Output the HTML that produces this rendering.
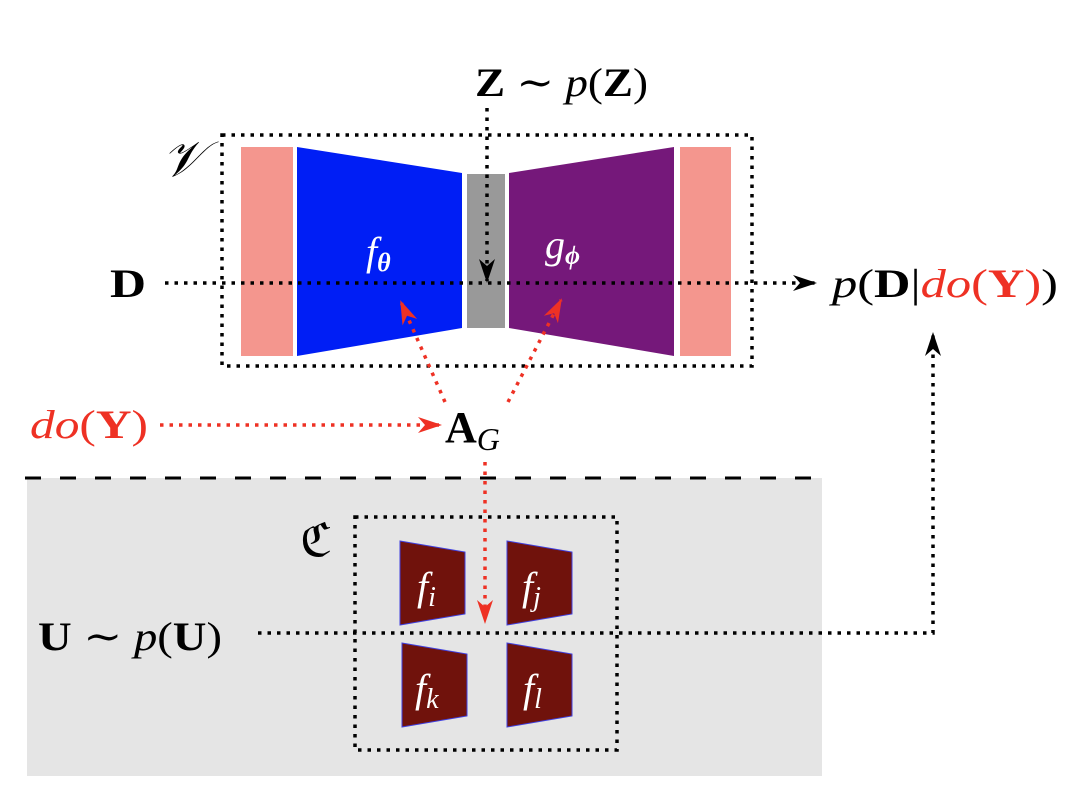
<!DOCTYPE html>
<html><head><meta charset="utf-8"><style>
html,body{margin:0;padding:0;background:#fff;}
svg{display:block;}
text{font-family:"Liberation Serif","DejaVu Serif",serif;}
.i{font-style:italic;}
.b{font-weight:bold;}
</style></head><body>
<svg width="1080" height="789" viewBox="0 0 1080 789" xmlns="http://www.w3.org/2000/svg">
<defs>
<marker id="ak" viewBox="0 0 24 16" refX="22" refY="8" markerWidth="24" markerHeight="16" markerUnits="userSpaceOnUse" orient="auto"><path d="M0,0 L24,8 L0,16 L7,8 Z" fill="#000"/></marker>
<marker id="ar" viewBox="0 0 24 16" refX="22" refY="8" markerWidth="24" markerHeight="16" markerUnits="userSpaceOnUse" orient="auto"><path d="M0,0 L24,8 L0,16 L7,8 Z" fill="#ee3124"/></marker>
</defs>
<rect x="27" y="478" width="795" height="298" fill="#e5e5e5"/>
<line x1="25" y1="478" x2="830" y2="478" stroke="#000" stroke-width="3" stroke-dasharray="16,19"/>
<rect x="222" y="135" width="530" height="231" fill="none" stroke="#000" stroke-width="3.5" stroke-dasharray="3.5,6"/>
<rect x="241" y="147" width="52" height="209" fill="#f4968e"/>
<rect x="680" y="147" width="51" height="209" fill="#f4968e"/>
<polygon points="297,147 462,173 462,328 297,356" fill="#001ef5"/>
<rect x="467" y="174" width="38" height="154" fill="#999"/>
<polygon points="509,173 674,147 674,356 509,328" fill="#75187a"/>
<text x="366" y="265" class="i" font-size="40" fill="#fff">f<tspan class="b" font-size="26" dy="6">θ</tspan></text>
<text x="545" y="258" class="i" font-size="40" fill="#fff">g<tspan class="b" font-size="26" dy="6">ϕ</tspan></text>
<text x="162" y="176" class="i" font-size="50" fill="#000">𝒱</text>
<text x="475" y="96" font-size="40" textLength="173" lengthAdjust="spacingAndGlyphs"><tspan class="b">Z</tspan> ∼ <tspan class="i">p</tspan>(<tspan class="b">Z</tspan>)</text>
<line x1="487" y1="108" x2="487" y2="281" stroke="#000" stroke-width="3.5" stroke-dasharray="3.5,6" marker-end="url(#ak)"/>
<text x="110" y="297" class="b" font-size="40" textLength="36" lengthAdjust="spacingAndGlyphs">D</text>
<line x1="165" y1="283" x2="815" y2="283" stroke="#000" stroke-width="3.5" stroke-dasharray="3.5,6" marker-end="url(#ak)"/>
<text x="832" y="297" font-size="40" textLength="226" lengthAdjust="spacingAndGlyphs"><tspan class="i">p</tspan>(<tspan class="b">D</tspan>|<tspan fill="#ee3124"><tspan class="i">do</tspan>(<tspan class="b">Y</tspan>)</tspan>)</text>
<text x="30" y="438" font-size="40" fill="#ee3124" textLength="118" lengthAdjust="spacingAndGlyphs"><tspan class="i">do</tspan>(<tspan class="b">Y</tspan>)</text>
<line x1="160" y1="425" x2="440" y2="425" stroke="#ee3124" stroke-width="3.5" stroke-dasharray="3.5,6" marker-end="url(#ar)"/>
<text x="445" y="442" font-size="44"><tspan class="b">A</tspan><tspan class="i" font-size="32" dy="8">G</tspan></text>
<line x1="445" y1="402" x2="401" y2="302" stroke="#ee3124" stroke-width="3.5" stroke-dasharray="3.5,6" marker-end="url(#ar)"/>
<line x1="508" y1="402" x2="561" y2="300" stroke="#ee3124" stroke-width="3.5" stroke-dasharray="3.5,6" marker-end="url(#ar)"/>
<line x1="485" y1="462" x2="485" y2="622" stroke="#ee3124" stroke-width="3.5" stroke-dasharray="3.5,6" marker-end="url(#ar)"/>
<rect x="355" y="517" width="262" height="233" fill="none" stroke="#000" stroke-width="3.5" stroke-dasharray="3.5,6"/>
<text x="300" y="556" font-size="46" fill="#000">ℭ</text>
<g fill="#70120c" stroke="#4040e0" stroke-width="1">
<polygon points="400,541 465,552 465,614 400,625"/>
<polygon points="507,541 572,552 572,614 507,625"/>
<polygon points="402,643 467,654 467,716 402,727"/>
<polygon points="507,643 572,654 572,716 507,727"/>
</g>
<g fill="#fff" font-size="40">
<text x="417" y="600" class="i">f<tspan font-size="28" dy="6">i</tspan></text>
<text x="522" y="600" class="i">f<tspan font-size="28" dy="6">j</tspan></text>
<text x="415" y="702" class="i">f<tspan font-size="28" dy="6">k</tspan></text>
<text x="523" y="702" class="i">f<tspan font-size="28" dy="6">l</tspan></text>
</g>
<text x="38" y="650" font-size="40" textLength="184" lengthAdjust="spacingAndGlyphs"><tspan class="b">U</tspan> ∼ <tspan class="i">p</tspan>(<tspan class="b">U</tspan>)</text>
<polyline points="258,633 933,633 933,334" fill="none" stroke="#000" stroke-width="3.5" stroke-dasharray="3.5,6" marker-end="url(#ak)"/>
</svg>
</body></html>
